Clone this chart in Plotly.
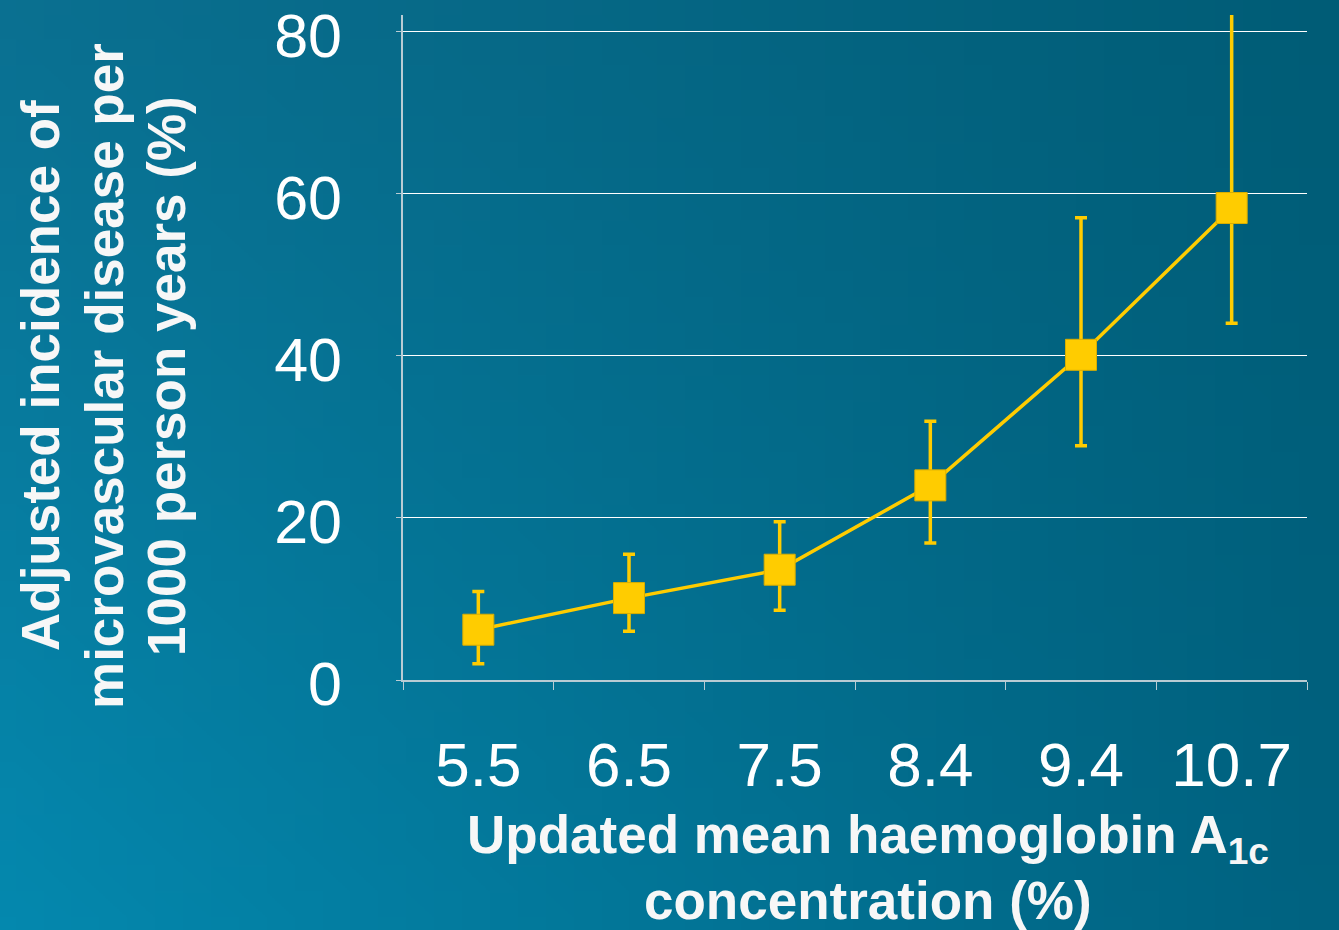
import base64, struct, zlib
import plotly.graph_objects as go

# ---- data ----
categories = ["5.5", "6.5", "7.5", "8.4", "9.4", "10.7"]
incidence = [6.2, 10.1, 13.6, 24.0, 40.1, 58.2]
upper = [10.9, 15.5, 19.5, 31.9, 57.0, 85.0]
lower = [2.0, 6.0, 8.6, 16.9, 28.9, 44.0]
y_ticks = [0, 20, 40, 60, 80]
x_title_lines = ["<b>Updated mean haemoglobin A<sub>1c</sub></b>", "<b>concentration (%)</b>"]
y_title_lines = ["<b>Adjusted incidence of</b>", "<b>microvascular disease per</b>",
                 "<b>1000 person years (%)</b>"]

err_plus = [u - v for u, v in zip(upper, incidence)]
err_minus = [v - l for v, l in zip(incidence, lower)]

# ---- background gradient image ----
W, H = 1339, 930
def make_png(w, h, tl, tr, bl, br):
    raw = b""
    for j in range(h):
        t = j / (h - 1)
        raw += b"\x00"
        for i in range(w):
            s = i / (w - 1)
            px = []
            for c in range(3):
                top = tl[c] * (1 - s) + tr[c] * s
                bot = bl[c] * (1 - s) + br[c] * s
                px.append(int(round(top * (1 - t) + bot * t)))
            raw += bytes(px)
    def chunk(tag, data):
        return struct.pack(">I", len(data)) + tag + data + struct.pack(">I", zlib.crc32(tag + data) & 0xffffffff)
    png = b"\x89PNG\r\n\x1a\n"
    png += chunk(b"IHDR", struct.pack(">IIBBBBB", w, h, 8, 2, 0, 0, 0))
    png += chunk(b"IDAT", zlib.compress(raw, 9))
    png += chunk(b"IEND", b"")
    return "data:image/png;base64," + base64.b64encode(png).decode()

bg = make_png(48, 36, (10, 112, 145), (0, 92, 118), (4, 136, 174), (0, 98, 128))

L, R, T, B = 403, 32, 15, 250
pw, ph = W - L - R, H - T - B

def px_x(x):
    return (x - L) / pw

def px_y(y):
    return (H - B - y) / ph

gold = "#FFCC00"
FONT = "Liberation Sans, Arial, sans-serif"
fig = go.Figure()
fig.add_trace(go.Scatter(
    x=categories, y=incidence, mode="lines+markers",
    line=dict(color=gold, width=3.5),
    marker=dict(symbol="square", size=31, color=gold, line=dict(color="#D9AE00", width=1)),
    error_y=dict(type="data", symmetric=False, array=err_plus, arrayminus=err_minus,
                 color=gold, thickness=3.5, width=6),
    showlegend=False, hoverinfo="skip",
))

annotations = []
for txt, cy in zip(x_title_lines, [838, 900]):
    annotations.append(dict(text=txt, xref="paper", yref="paper", x=px_x(868), y=px_y(cy),
                            xanchor="center", yanchor="middle", showarrow=False,
                            font=dict(size=53, color="#f7f7f7", family=FONT)))
for txt, cx in zip(y_title_lines, [40, 104, 166]):
    annotations.append(dict(text=txt, xref="paper", yref="paper", x=px_x(cx), y=px_y(376),
                            xanchor="center", yanchor="middle", showarrow=False, textangle=-90,
                            font=dict(size=53, color="#f7f7f7", family=FONT)))

fig.update_layout(
    width=W, height=H,
    margin=dict(l=L, r=R, t=T, b=B, autoexpand=False),
    paper_bgcolor="#04789c", plot_bgcolor="rgba(0,0,0,0)",
    font=dict(family=FONT, color="white"),
    images=[dict(source=bg, xref="paper", yref="paper",
                 x=-L / pw, y=1 + T / ph, sizex=W / pw, sizey=H / ph,
                 sizing="stretch", layer="below", xanchor="left", yanchor="top")],
    xaxis=dict(type="category", range=[-0.5, 5.5], tickson="boundaries",
               ticks="outside", ticklen=8, tickcolor="#b9ccd4", tickwidth=1,
               showline=True, linecolor="#b9ccd4", linewidth=1.5, showgrid=False,
               tickfont=dict(size=62, color="white"), ticklabelstandoff=30,
               ticklabeloverflow="allow", automargin=False),
    yaxis=dict(range=[0, 82], tickvals=y_ticks, ticks="outside", ticklen=5,
               tickcolor="#b9ccd4", showline=True, linecolor="#b9ccd4", linewidth=1.5,
               showgrid=True, gridcolor="white", gridwidth=1, zeroline=False,
               tickfont=dict(size=61, color="white"), ticklabelstandoff=42,
               ticklabelshift=4,
               ticklabeloverflow="allow", automargin=False),
    annotations=annotations,
)

fig.write_html("out.html", config={"displayModeBar": False},
               post_script="document.body.style.margin='0px';")
